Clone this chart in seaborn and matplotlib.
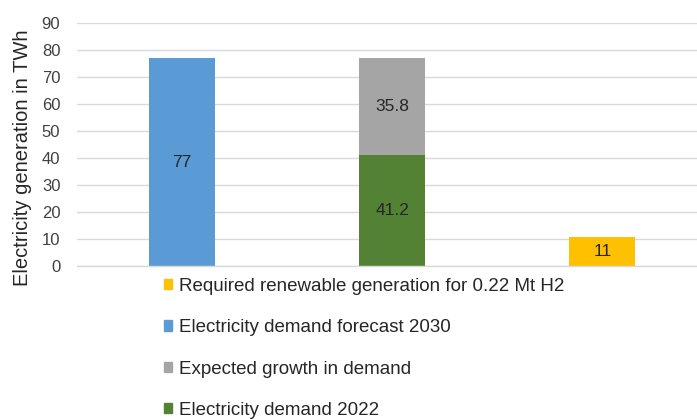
import matplotlib
matplotlib.use("Agg")
import matplotlib.pyplot as plt
from matplotlib.patches import Patch
import pandas as pd
import seaborn as sns

# data
categories = ["Forecast 2030", "Demand 2022 + growth", "H2 requirement"]
base_values = [77, 41.2, 11]          # bottom segment of each bar
base_labels = ["Electricity demand forecast 2030", "Electricity demand 2022",
               "Required renewable generation for 0.22 Mt H2"]
growth_value = 35.8                   # stacked on top of the 2022 demand
growth_label = "Expected growth in demand"
yticks = [0, 10, 20, 30, 40, 50, 60, 70, 80, 90]

BLUE, GREEN, YELLOW, GRAY = "#5B9BD5", "#548235", "#FFC000", "#A5A5A5"
base_colors = [BLUE, GREEN, YELLOW]

sns.set_theme(style="white")
plt.rcParams["font.family"] = ["Liberation Sans", "DejaVu Sans"]

df = pd.DataFrame({"cat": categories, "value": base_values})

fig = plt.figure(figsize=(6.97, 4.19), dpi=100)
ax = fig.add_axes([0.1105, 0.364, 0.8895, 0.581])

W = 0.314
sns.barplot(data=df, x="cat", y="value", hue="cat", order=categories,
            palette=base_colors, width=W, legend=False, ax=ax, linewidth=0)
sns.barplot(x=[categories[1]], y=[growth_value], order=categories,
            color=GRAY, width=W, bottom=base_values[1], ax=ax, linewidth=0,
            saturation=1)
# seaborn desaturates by default; force the exact colours
for patch, c in zip(ax.patches[:3], base_colors):
    patch.set_facecolor(c)

# centred value labels
for cont, vals in zip(ax.containers, [[base_values[0]], [base_values[1]], [base_values[2]], [growth_value]]):
    ax.bar_label(cont, labels=[f"{v:g}" for v in vals], label_type="center",
                 fontsize=12.5, color="#262626")

ax.set_xlim(-0.5, 2.45)
ax.set_ylim(0, 90)
ax.set_yticks(yticks)
ax.set_xticks([])
ax.set_xlabel("")
ax.set_ylabel("Electricity generation in TWh", fontsize=14.5, color="#262626")
ax.yaxis.set_label_coords(-0.0725, 0.446)
ax.tick_params(axis="y", length=0, pad=12, labelsize=12, labelcolor="#404040")
ax.grid(axis="y", color="#d9d9d9", linewidth=1)
ax.set_axisbelow(True)
for s in ["top", "right", "left"]:
    ax.spines[s].set_visible(False)
ax.spines["bottom"].set_color("#d9d9d9")
ax.spines["bottom"].set_linewidth(1)

handles = [Patch(color=YELLOW, label=base_labels[2]),
           Patch(color=BLUE, label=base_labels[0]),
           Patch(color=GRAY, label=growth_label),
           Patch(color=GREEN, label=base_labels[1])]
fig.legend(handles=handles, loc="upper left", bbox_to_anchor=(0.235, 0.337),
           bbox_transform=fig.transFigure, frameon=False, fontsize=13.5,
           handlelength=0.45, handleheight=0.45, handletextpad=0.35,
           labelspacing=1.3, borderpad=0, borderaxespad=0, labelcolor="#262626")

fig.savefig("out.png", dpi=100)
